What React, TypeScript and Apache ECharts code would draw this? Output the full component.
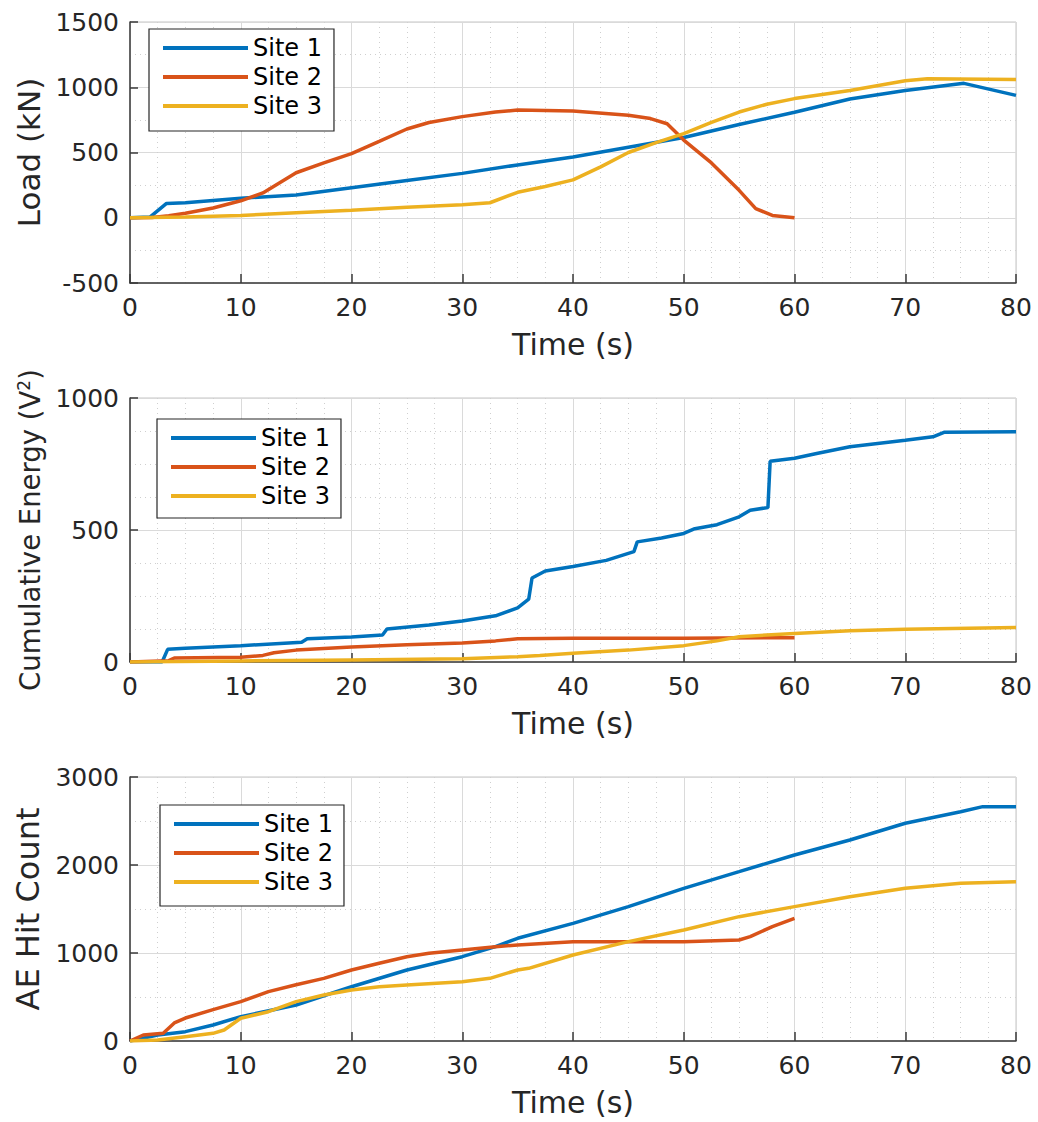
import React, { useEffect, useRef } from "react";
import * as echarts from "echarts";

const siteNames = ["Site 1", "Site 2", "Site 3"];
const siteColors = ["#0072BD", "#D95319", "#EDB120"];

const xTicks = { min: 0, max: 80, interval: 10 };
const loadAxis = { min: -500, max: 1500, interval: 500, minor: 2 };
const energyAxis = { min: 0, max: 1000, interval: 500, minor: 4 };
const hitAxis = { min: 0, max: 3000, interval: 1000, minor: 2 };

// Load (kN) vs time (s)
const loadSite1: [number, number][] = [
  [0, 0], [1.8, 5], [3.3, 110], [5, 115], [10, 150], [15, 175], [20, 230], [25, 285],
  [30, 340], [35, 405], [40, 465], [45, 540], [50, 615], [55, 715], [60, 808], [65, 910],
  [70, 975], [75.3, 1030], [80, 938],
];
const loadSite2: [number, number][] = [
  [0, 0], [2, 2], [3.5, 15], [5, 35], [7.5, 75], [10, 130], [12, 190], [15, 345],
  [17.5, 420], [20, 492], [22.5, 585], [25, 680], [27, 730], [30, 775], [33, 810],
  [35, 825], [40, 818], [45, 785], [47, 760], [48.5, 720], [50, 595], [52.5, 420],
  [55, 210], [56.5, 70], [58, 18], [60, 0],
];
const loadSite3: [number, number][] = [
  [0, 0], [5, 5], [10, 18], [15, 38], [20, 57], [25, 80], [30, 100], [32.5, 115],
  [35, 195], [37.5, 240], [40, 290], [42.5, 390], [45, 500], [47.5, 575], [50, 645],
  [52.5, 730], [55, 810], [57.5, 870], [60, 913], [65, 975], [70, 1050], [72, 1065],
  [80, 1060],
];

// Cumulative energy (V^2) vs time (s)
const energySite1: [number, number][] = [
  [0, 0], [2.9, 0], [3.4, 48], [5, 52], [10, 62], [15.5, 75], [16, 88], [20, 95],
  [22.8, 102], [23.2, 125], [27, 140], [30, 155], [33, 175], [35, 205], [36, 238],
  [36.3, 318], [37.5, 345], [40, 362], [43, 385], [45.5, 418], [45.8, 455], [48, 470],
  [50, 487], [51, 505], [53, 520], [55, 550], [56, 575], [57.6, 585], [57.8, 760],
  [60, 772], [62, 790], [65, 815], [70, 840], [72.5, 853], [73.5, 870], [80, 872],
];
const energySite2: [number, number][] = [
  [0, 0], [3.5, 5], [4, 15], [10, 18], [12, 25], [13, 35], [15, 45], [20, 57],
  [25, 65], [30, 72], [33, 80], [35, 88], [40, 90], [50, 90], [60, 92],
];
const energySite3: [number, number][] = [
  [0, 0], [5, 2], [10, 4], [20, 8], [30, 12], [35, 20], [37, 25], [40, 33], [45, 45],
  [50, 62], [53, 80], [55, 96], [60, 108], [65, 118], [70, 124], [80, 131],
];

// AE hit count vs time (s)
const hitSite1: [number, number][] = [
  [0, 0], [2.5, 68], [5, 106], [7.5, 182], [10, 277], [15, 409], [20, 617], [25, 807],
  [30, 958], [33, 1072], [35, 1167], [40, 1337], [45, 1527], [50, 1735], [55, 1924],
  [60, 2114], [65, 2284], [70, 2474], [75, 2606], [77, 2663], [80, 2663],
];
const hitSite2: [number, number][] = [
  [0, 0], [1.2, 68], [3, 87], [4, 205], [5, 261], [7.5, 356], [10, 447], [12.5, 561],
  [15, 640], [17.5, 712], [20, 807], [22.5, 883], [25, 958], [27, 996], [30, 1034],
  [33, 1072], [35, 1091], [40, 1129], [45, 1129], [50, 1129], [55, 1148], [56, 1186],
  [58, 1300], [60, 1394],
];
const hitSite3: [number, number][] = [
  [0, 0], [2.5, 11], [5, 49], [7.5, 87], [8.5, 125], [10, 258], [12.5, 333], [15, 447],
  [17.5, 523], [20, 580], [22.5, 617], [25, 636], [30, 674], [32.5, 712], [35, 807],
  [36, 826], [40, 977], [45, 1129], [50, 1261], [55, 1413], [60, 1527], [65, 1640],
  [70, 1735], [75, 1792], [80, 1811],
];

const yNames = ["Load (kN)", "Cumulative Energy (V{sup|2})", "AE Hit Count"];
const yNameSizes = [31, 27.5, 32];
const xName = "Time (s)";

const FONT = "DejaVu Sans";
const TEXT = "#262626";

export default function App() {
  const ref = useRef<HTMLDivElement>(null);

  useEffect(() => {
    if (!ref.current) return;
    const chart = echarts.init(ref.current, null, { renderer: "svg" });

    const grids = [
      { left: 130, width: 886, top: 22, height: 261 },
      { left: 130, width: 886, top: 398, height: 264 },
      { left: 130, width: 886, top: 777, height: 264 },
    ].map((g) => ({ ...g, show: true, borderColor: "#c4c4c4", borderWidth: 1, backgroundColor: "transparent" }));

    const xAxes = [0, 1, 2].map((i) => ({
      type: "value",
      gridIndex: i,
      min: xTicks.min,
      max: xTicks.max,
      interval: xTicks.interval,
      name: xName,
      nameLocation: "middle",
      nameGap: 46,
      nameTextStyle: { fontFamily: FONT, fontSize: 30, color: TEXT },
      axisLine: { show: true, onZero: false, lineStyle: { color: "#3a3a3a", width: 1.5 } },
      axisTick: { show: true, inside: true, length: 9, lineStyle: { color: "#3a3a3a", width: 1.5 } },
      axisLabel: { fontFamily: FONT, fontSize: 25, color: TEXT, margin: 12, formatter: (v: number) => String(v) },
      splitLine: { show: true, lineStyle: { color: "#dadada", width: 1 } },
      minorTick: { show: false, splitNumber: 4 },
      minorSplitLine: { show: true, lineStyle: { color: "#cfcfcf", width: 1, type: [1, 4] } },
    }));

    const yDefs = [loadAxis, energyAxis, hitAxis];
    const yAxes = yDefs.map((d, i) => ({
      type: "value",
      gridIndex: i,
      min: d.min,
      max: d.max,
      interval: d.interval,
      name: yNames[i],
      nameLocation: "middle",
      nameGap: 130 - 31 - yNameSizes[i] / 2,
      nameTextStyle: {
        fontFamily: FONT,
        fontSize: yNameSizes[i],
        color: TEXT,
        rich: {
          sup: { fontFamily: FONT, fontSize: yNameSizes[i] * 0.62, color: TEXT, verticalAlign: "top", padding: [0, 0, yNameSizes[i] * 0.45, 0] },
        },
      },
      axisLine: { show: true, onZero: false, lineStyle: { color: "#3a3a3a", width: 1.5 } },
      axisTick: { show: true, inside: true, length: 8, lineStyle: { color: "#3a3a3a", width: 1.5 } },
      axisLabel: { fontFamily: FONT, fontSize: 25, color: TEXT, margin: 11, formatter: (v: number) => String(v) },
      splitLine: { show: true, lineStyle: { color: "#dadada", width: 1 } },
      minorTick: { show: false, splitNumber: d.minor },
      minorSplitLine: { show: true, lineStyle: { color: "#cfcfcf", width: 1, type: [1, 4] } },
    }));

    const groups = [
      [loadSite1, loadSite2, loadSite3],
      [energySite1, energySite2, energySite3],
      [hitSite1, hitSite2, hitSite3],
    ];
    const series: any[] = [];
    groups.forEach((g, gi) => {
      g.forEach((data, si) => {
        series.push({
          type: "line",
          name: siteNames[si],
          xAxisIndex: gi,
          yAxisIndex: gi,
          data,
          showSymbol: false,
          symbol: "none",
          lineStyle: { color: siteColors[si], width: 3.5 },
          itemStyle: { color: siteColors[si] },
          clip: true,
          z: 3,
        });
      });
    });

    const legendPos = [
      { left: 149, top: 29, padding: [7, 12, 13, 14] },
      { left: 157, top: 419, padding: [7, 11, 10, 14] },
      { left: 160, top: 805, padding: [7, 11, 12, 14] },
    ];
    const legends = legendPos.map((p) => ({
      ...p,
      orient: "vertical",
      data: siteNames,
      icon: "rect",
      itemWidth: 85,
      itemHeight: 4,
      itemGap: 5,
      backgroundColor: "#ffffff",
      borderColor: "#262626",
      borderWidth: 1.2,
      textStyle: { fontFamily: FONT, fontSize: 24, color: "#000000" },
      selectedMode: false,
    }));

    chart.setOption({
      animation: false,
      backgroundColor: "#ffffff",
      grid: grids,
      xAxis: xAxes,
      yAxis: yAxes,
      legend: legends,
      series,
    });

    return () => chart.dispose();
  }, []);

  return (
    <div
      ref={ref}
      style={{ position: "absolute", left: 0, top: 0, width: 1038, height: 1122, background: "#fff" }}
    />
  );
}
